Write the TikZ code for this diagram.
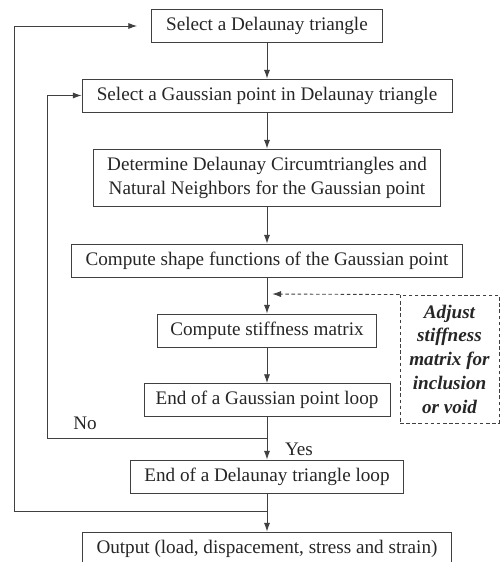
\documentclass[tikz,border=0pt]{standalone}
\usepackage{fontspec}
\setmainfont{Liberation Serif}
\usepackage{tikz}
\usetikzlibrary{arrows.meta,calc,positioning}

\begin{document}
\begin{tikzpicture}[
  line width=0.5pt,
  box/.style={draw=black!75, text=black!85, minimum height=0.66cm, inner sep=2pt, align=center, font=\fontsize{10.9}{13.7}\selectfont},
  arr/.style={draw=black!75, -{Latex[length=5pt,width=3.5pt]}},
  fine dash/.style={dash pattern=on 2pt off 1.5pt},
  lbl/.style={text=black!85, font=\fontsize{10.9}{13.7}\selectfont}
]
\useasboundingbox (0,0) rectangle (10,-11.24);
\node[box, minimum width=4.62cm] (sel) at (5.34,-0.52) {Select a Delaunay triangle};
\node[box, minimum width=7.40cm] (gp) at (5.34,-1.91) {Select a Gaussian point in Delaunay triangle};
\node[box, minimum width=6.94cm, minimum height=1.14cm] (dc) at (5.34,-3.55) {Determine Delaunay Circumtriangles and\\Natural Neighbors for the Gaussian point};
\node[box, minimum width=7.82cm] (sf) at (5.34,-5.21) {Compute shape functions of the Gaussian point};
\node[box, minimum width=4.38cm] (sm) at (5.34,-6.61) {Compute stiffness matrix};
\node[box, minimum width=4.92cm] (egp) at (5.34,-8.00) {End of a Gaussian point loop};
\node[box, minimum width=5.46cm] (edt) at (5.34,-9.53) {End of a Delaunay triangle loop};
\node[box, minimum width=7.38cm] (out) at (5.34,-10.97) {Output (load, dispacement, stress and strain)};
\node[box, fine dash, minimum width=1.98cm, minimum height=2.56cm, font=\fontsize{10.9}{13.5}\selectfont\bfseries\itshape] (adj) at (8.99,-7.18) {Adjust\\stiffness\\matrix for\\inclusion\\or void};
\draw[arr] (sel) -- (gp);
\draw[arr] (gp) -- (dc);
\draw[arr] (dc) -- (sf);
\draw[arr] (sf) -- (sm);
\draw[arr] (sm) -- (egp);
\draw[arr] (egp) -- (edt);
\draw[arr] (edt) -- (out);
\coordinate (jn) at (5.34,-5.88);
\draw[arr, fine dash, shorten >=3pt] (adj.north west) -- (jn);
\coordinate (ia) at (5.34,-8.76);
\coordinate (il) at (0.94,-8.76);
\draw[arr] (ia) -- (il) |- (gp.west);
\coordinate (oa) at (5.34,-10.22);
\coordinate (ol) at (0.28,-10.22);
\draw[arr] (oa) -- (ol) |- ([xshift=-0.28cm]sel.west);
\node[lbl] (no) at (1.7,-8.46) {No};
\node[lbl] (yes) at (5.98,-8.98) {Yes};
\end{tikzpicture}
\end{document}
